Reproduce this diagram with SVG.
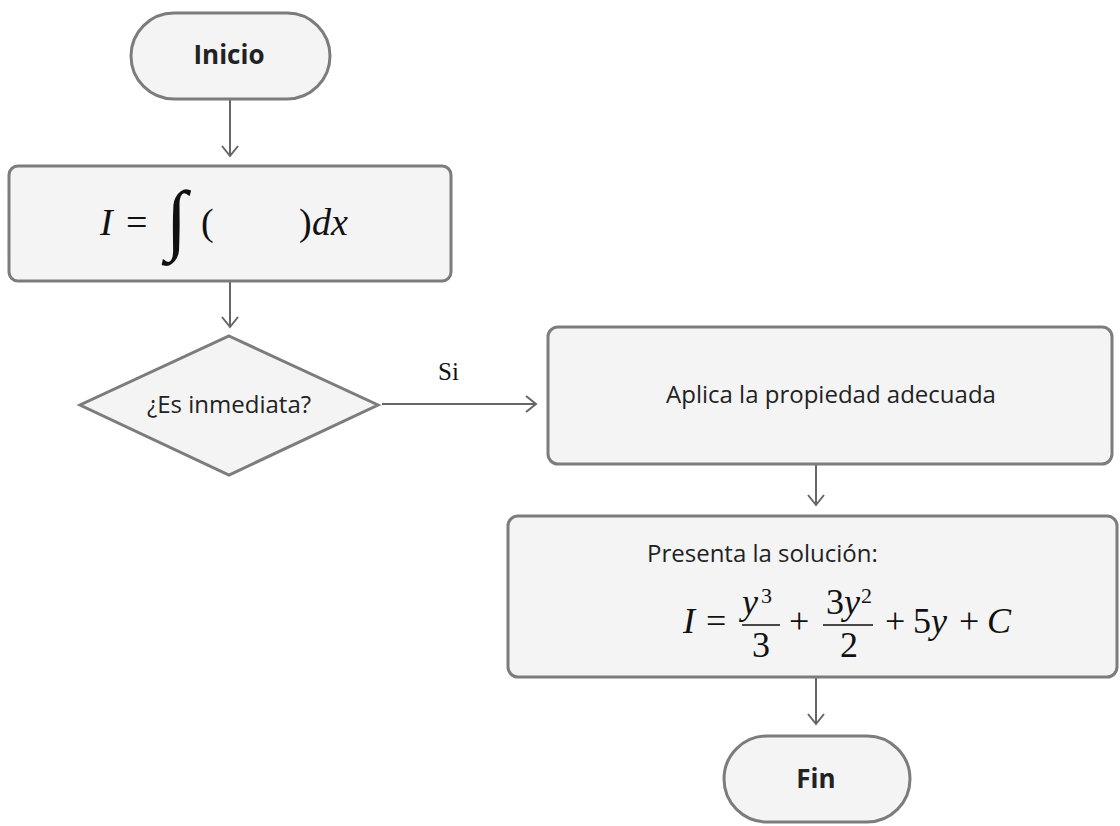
<svg xmlns="http://www.w3.org/2000/svg" width="1120" height="826" viewBox="0 0 1120 826">
<defs>
<style>
.shape{fill:#f4f4f4;stroke:#7c7c7c;stroke-width:3}
.lbl{font-family:"Open Sans","Liberation Sans",sans-serif;fill:#222;font-size:24px}
.bold{font-family:"Open Sans","Liberation Sans",sans-serif;fill:#222;font-size:26px;font-weight:bold}
.math{font-family:"Liberation Serif",serif;fill:#111;font-size:38px}
.m2{font-family:"Liberation Serif",serif;fill:#111;font-size:36px}
.sup{font-family:"Liberation Serif",serif;fill:#111;font-size:22px}
.serif{font-family:"Liberation Serif",serif;fill:#111;font-size:25px}
.it{font-style:italic}
.conn{stroke:#666;stroke-width:2;fill:none}
</style>
<marker id="arr" viewBox="0 0 20 20" refX="12" refY="10" markerWidth="20" markerHeight="20" markerUnits="userSpaceOnUse" orient="auto">
<path d="M2,2 L12,10 L2,18" fill="none" stroke="#666" stroke-width="2"/>
</marker>
</defs>
<rect width="1120" height="826" fill="#ffffff"/>
<g id="connectors">
<line class="conn" x1="230" y1="100" x2="230" y2="156" marker-end="url(#arr)"/>
<line class="conn" x1="230" y1="282" x2="230" y2="327" marker-end="url(#arr)"/>
<line class="conn" x1="382" y1="404" x2="536" y2="404" marker-end="url(#arr)"/>
<text class="serif" x="438" y="380">Si</text>
<line class="conn" x1="816" y1="465" x2="816" y2="505" marker-end="url(#arr)"/>
<line class="conn" x1="816" y1="678" x2="816" y2="724" marker-end="url(#arr)"/>
</g>
<g id="inicio">
<rect class="shape" x="131" y="13" width="199" height="86" rx="43"/>
<text class="bold" x="229" y="64" text-anchor="middle">Inicio</text>
</g>
<g id="integral">
<rect class="shape" x="9" y="166" width="442" height="115" rx="9"/>
<text class="math it" x="100" y="235">I</text>
<text class="math" x="126" y="235">=</text>
<text class="math it" x="166" y="245" style="font-size:78px">∫</text>
<text class="math" x="201" y="235">(</text>
<text class="math" x="299" y="235">)</text>
<text class="math it" x="312" y="235">dx</text>
</g>
<g id="decision">
<polygon class="shape" points="229,336 378,405 229,475 80,405"/>
<text class="lbl" x="229" y="413" text-anchor="middle">¿Es inmediata?</text>
</g>
<g id="aplica">
<rect class="shape" x="548" y="327" width="564" height="137" rx="10"/>
<text class="lbl" x="831" y="403" text-anchor="middle">Aplica la propiedad adecuada</text>
</g>
<g id="presenta">
<rect class="shape" x="508" y="516" width="609" height="161" rx="10"/>
<text class="lbl" x="647" y="562">Presenta la solución:</text>
<text class="m2 it" x="683" y="633">I</text>
<text class="m2" x="706" y="633">=</text>
<text class="m2 it" x="742" y="614">y</text>
<text class="sup" x="761" y="603">3</text>
<line x1="742" y1="625" x2="780" y2="625" stroke="#111" stroke-width="1.6"/>
<text class="m2" x="761" y="657" text-anchor="middle">3</text>
<text class="m2" x="789" y="633">+</text>
<text class="m2" x="826" y="614">3<tspan class="it">y</tspan></text>
<text class="sup" x="861" y="603">2</text>
<line x1="823" y1="625" x2="873" y2="625" stroke="#111" stroke-width="1.6"/>
<text class="m2" x="849" y="657" text-anchor="middle">2</text>
<text class="m2" x="885" y="633">+</text>
<text class="m2" x="913" y="633">5<tspan class="it">y</tspan></text>
<text class="m2" x="959" y="633">+</text>
<text class="m2 it" x="987" y="633">C</text>
</g>
<g id="fin">
<rect class="shape" x="724" y="736" width="186" height="86" rx="43"/>
<text class="bold" x="816" y="788" text-anchor="middle">Fin</text>
</g>
</svg>
